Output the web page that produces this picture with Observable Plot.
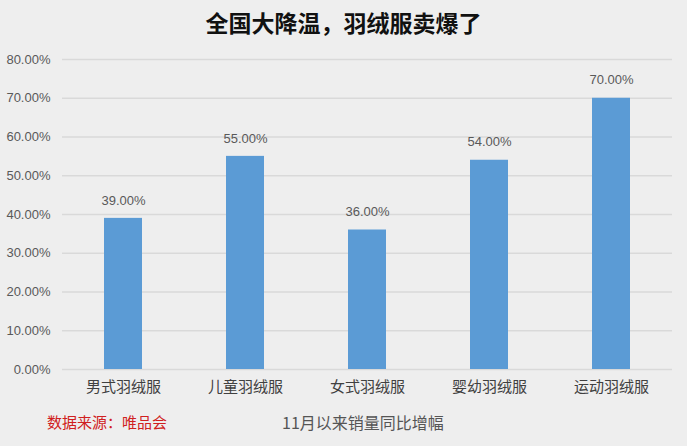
<!DOCTYPE html>
<html>
<head>
<meta charset="utf-8">
<script src="https://cdn.jsdelivr.net/npm/d3@7"></script>
<script src="https://cdn.jsdelivr.net/npm/@observablehq/plot@0.6"></script>
<style>
  html, body { margin: 0; padding: 0; background: #eeeeee; }
  body { width: 687px; height: 446px; overflow: hidden; font-family: "Noto Sans CJK SC", "Noto Sans", sans-serif; }
  #title { height: 45px; line-height: 44px; text-align: center; font-size: 23px; font-weight: bold; color: #111; }
  #footer { position: relative; height: 47px; }
  #src { position: absolute; left: 47px; top: 12px; color: #d02020; font-size: 15px; }
  #cap { position: absolute; left: 282px; top: 11px; color: #555; font-size: 16px; }
  svg { display: block; }
</style>
</head>
<body>
<div id="title">全国大降温，羽绒服卖爆了</div>
<div id="chart"></div>
<div id="footer"><span id="src">数据来源：唯品会</span><span id="cap">11月以来销量同比增幅</span></div>
<script>
const categories = ["男式羽绒服", "儿童羽绒服", "女式羽绒服", "婴幼羽绒服", "运动羽绒服"];
const values = [0.39, 0.55, 0.36, 0.54, 0.70];
const yTicks = [0, 0.1, 0.2, 0.3, 0.4, 0.5, 0.6, 0.7, 0.8];

const data = categories.map((c, i) => ({category: c, value: values[i]}));
const fmt = d3.format(".2%");

const chart = Plot.plot({
  width: 687,
  height: 354,
  marginTop: 14,
  marginBottom: 30,
  marginLeft: 62,
  marginRight: 15,
  style: {background: "transparent", fontFamily: "'Liberation Sans Narrow', 'Liberation Sans', sans-serif", fontSize: "13px", color: "#595959"},
  x: {domain: categories, paddingInner: 0.69, paddingOuter: 0.345, label: null},
  y: {domain: [0, 0.8], label: null},
  marks: [
    Plot.gridY(yTicks, {stroke: "#d9d9d9", strokeOpacity: 1, strokeWidth: 1.5}),
    Plot.axisY({ticks: yTicks, tickFormat: fmt, tickSize: 0, tickPadding: 12, fill: "#595959", fontSize: 13}),
    Plot.axisX({tickSize: 0, tickPadding: 12, fill: "#404040", fontSize: 15, fontFamily: "'Noto Sans CJK SC', sans-serif"}),
    Plot.barY(data, {x: "category", y: "value", fill: "#5b9bd5"}),
    Plot.text(data, {x: "category", y: "value", text: d => fmt(d.value), dy: -18, fill: "#595959", fontSize: 13})
  ]
});
document.getElementById("chart").appendChild(chart);
</script>
</body>
</html>
